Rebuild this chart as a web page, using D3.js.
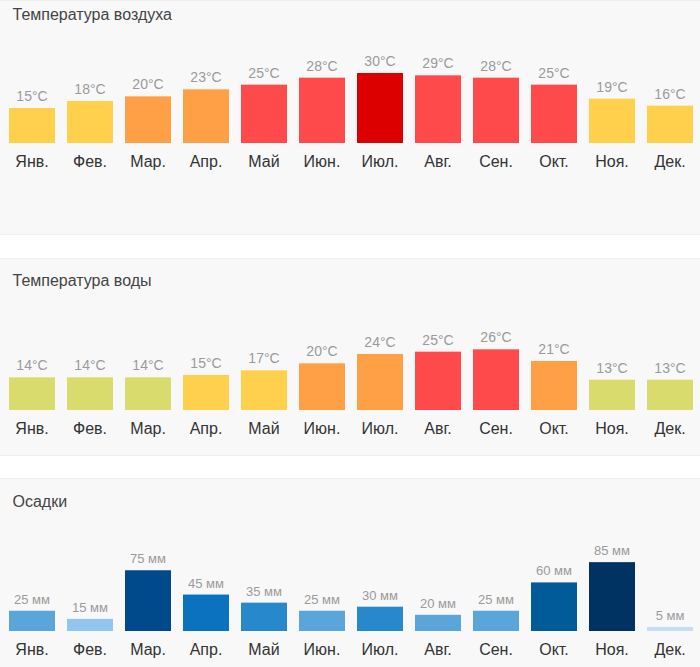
<!DOCTYPE html>
<html>
<head>
<meta charset="utf-8">
<script src="https://cdn.jsdelivr.net/npm/d3@7"></script>
<style>
  html, body { margin: 0; padding: 0; background: #ffffff; }
  svg { display: block; }
  text { font-family: "Liberation Sans", Arial, Helvetica, sans-serif; }
</style>
</head>
<body>
<svg id="chart" width="700" height="667"></svg>
<script>
const months = ["Янв.", "Фев.", "Мар.", "Апр.", "Май", "Июн.", "Июл.", "Авг.", "Сен.", "Окт.", "Ноя.", "Дек."];
const airTemp = [15, 18, 20, 23, 25, 28, 30, 29, 28, 25, 19, 16];
const waterTemp = [14, 14, 14, 15, 17, 20, 24, 25, 26, 21, 13, 13];
const precipitation = [25, 15, 75, 45, 35, 25, 30, 20, 25, 60, 85, 5];
const titles = ["Температура воздуха", "Температура воды", "Осадки"];
const tempUnit = "°C";
const precipUnit = " мм";

function tempColor(t) {
  if (t >= 30) return "#dc0000";
  if (t >= 25) return "#ff4a4c";
  if (t >= 20) return "#ff9f46";
  if (t >= 15) return "#ffd04c";
  return "#d9db6c";
}
function precipColor(p) {
  if (p >= 85) return "#003262";
  if (p >= 75) return "#004a8c";
  if (p >= 60) return "#005b98";
  if (p >= 45) return "#0a72bf";
  if (p >= 30) return "#2788cc";
  if (p >= 20) return "#5aa5da";
  if (p >= 15) return "#92c6f0";
  return "#c6ddf5";
}

const svg = d3.select("#chart");
const W = 700;

const x = d3.scaleBand().domain(months).range([3, 699]).paddingInner(12 / 58).paddingOuter(0.5 * 12 / 58);

const tempY = d3.scaleLinear().domain([0, 30]).range([0, 70]);
const precipY = d3.scaleLinear().domain([0, 100]).range([0, 81]);

const panels = [
  { title: titles[0], values: airTemp, unit: tempUnit, color: tempColor, h: tempY, top: 0, bottom: 235, titleY: 19.5, base: 143, valueSize: 14 },
  { title: titles[1], values: waterTemp, unit: tempUnit, color: tempColor, h: tempY, top: 258, bottom: 456, titleY: 286, base: 410, valueSize: 14 },
  { title: titles[2], values: precipitation, unit: precipUnit, color: precipColor, h: precipY, top: 478, bottom: 667, titleY: 507, base: 631, valueSize: 13 }
];

panels.forEach(p => {
  const g = svg.append("g");
  g.append("rect").attr("x", 0).attr("y", p.top).attr("width", W).attr("height", p.bottom - p.top)
    .attr("fill", "#f8f8f9");
  g.append("line").attr("x1", 0).attr("x2", W).attr("y1", p.top + 0.5).attr("y2", p.top + 0.5)
    .attr("stroke", "#efefef");
  if (p.bottom < 667) {
    g.append("line").attr("x1", 0).attr("x2", W).attr("y1", p.bottom - 0.5).attr("y2", p.bottom - 0.5)
      .attr("stroke", "#efefef");
  }
  g.append("text").attr("x", 12.5).attr("y", p.titleY).attr("font-size", 16).attr("fill", "#444")
    .text(p.title);

  const data = months.map((m, i) => ({ m, v: p.values[i] }));
  g.selectAll("rect.bar").data(data).enter().append("rect").attr("class", "bar")
    .attr("x", d => x(d.m)).attr("width", x.bandwidth())
    .attr("y", d => p.base - p.h(d.v)).attr("height", d => p.h(d.v))
    .attr("fill", d => p.color(d.v));

  g.selectAll("text.val").data(data).enter().append("text").attr("class", "val")
    .attr("x", d => x(d.m) + x.bandwidth() / 2).attr("y", d => p.base - p.h(d.v) - 7)
    .attr("text-anchor", "middle").attr("font-size", p.valueSize).attr("fill", "#9a9a9a")
    .text(d => d.v + p.unit);

  const axis = d3.axisBottom(x).tickSize(0).tickPadding(0);
  const ag = g.append("g").attr("transform", `translate(0,${p.base})`).call(axis);
  ag.select(".domain").remove();
  ag.selectAll("text").attr("dy", null).attr("y", 24).attr("font-size", 16).attr("fill", "#333")
    .attr("font-family", "'Liberation Sans', Arial, Helvetica, sans-serif");
});
</script>
</body>
</html>
